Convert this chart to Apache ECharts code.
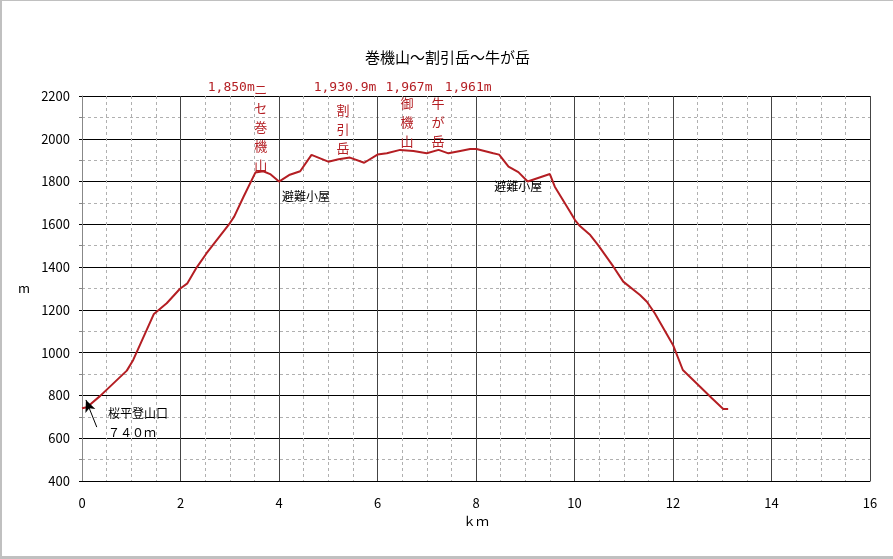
<!DOCTYPE html>
<html>
<head>
<meta charset="utf-8">
<script src="https://cdn.jsdelivr.net/npm/echarts@6/dist/echarts.min.js"></script>
<style>
  html, body { margin: 0; padding: 0; background: #fff; }
  #chart { width: 893px; height: 559px; box-sizing: border-box;
           border-top: 1px solid #c0c0c0; border-left: 2px solid #c0c0c0; border-bottom: 3px solid #c0c0c0; }
</style>
</head>
<body>
<div id="chart"></div>
<script>
// distance (km) and elevation (m) along the route
const distKm = [0, 0.1, 0.37, 0.91, 1.04, 1.46, 1.72, 1.99, 2.14, 2.33, 2.53, 3.0, 3.09, 3.28, 3.52,
  3.68, 3.82, 4.0, 4.22, 4.43, 4.66, 5.0, 5.21, 5.44, 5.73, 6.0, 6.19, 6.46, 6.73, 7.0, 7.24,
  7.44, 7.68, 7.88, 8.01, 8.35, 8.47, 8.66, 8.86, 9.05, 9.5, 9.6, 9.91, 10.01, 10.11, 10.32,
  10.48, 10.79, 10.99, 11.33, 11.47, 11.63, 12.0, 12.2, 12.55, 12.79, 13.02, 13.12];
const elevM = [740, 745, 798, 916, 966, 1181, 1231, 1299, 1324, 1399, 1465, 1605, 1636, 1729, 1842,
  1848, 1835, 1800, 1832, 1848, 1925, 1893, 1904, 1912, 1888, 1926, 1932, 1948, 1943, 1932, 1948,
  1932, 1943, 1952, 1952, 1932, 1926, 1870, 1844, 1800, 1835, 1776, 1659, 1620, 1592, 1550,
  1503, 1402, 1332, 1270, 1238, 1184, 1036, 919, 841, 787, 737, 737];

// peak annotations (red)
const peakNames = ['ニセ巻機山', '割引岳', '御機山', '牛が岳'];
const peakNameKm = [3.63, 5.30, 6.60, 7.23];
const peakNameTopM = [2237, 2135, 2167, 2167];
const peakHeights = ['1,850m', '1,930.9m', '1,967m', '1,961m'];
const peakHeightKm = [3.03, 5.34, 6.64, 7.84];
const peakHeightM = 2237;

// hut / trailhead notes (black)
const noteTexts = ['避難小屋', '避難小屋', '桜平登山口', '７４０ｍ'];
const noteKm = [4.06, 8.37, 0.53, 0.53];
const noteM = [1732, 1775, 718, 629];

const arrowFrom = [0.30, 652];
const arrowTo = [0.08, 779];

const lineColor = '#b41e23';
const font = '"Noto Sans CJK JP", "Liberation Sans", sans-serif';
const monoFont = '"DejaVu Sans Mono", monospace';

const chart = echarts.init(document.getElementById('chart'));
chart.setOption({
  animation: false,
  title: {
    text: '巻機山～割引岳～牛が岳',
    left: 'center',
    top: 44,
    textStyle: { fontFamily: font, fontSize: 15, fontWeight: 'normal', color: '#000' }
  },
  grid: { left: 80, right: 23, top: 95, bottom: 75 },
  xAxis: {
    type: 'value', min: 0, max: 16, interval: 2,
    name: 'ｋｍ', nameLocation: 'middle', nameGap: 34,
    nameTextStyle: { fontFamily: font, fontSize: 13, color: '#000' },
    axisLine: { lineStyle: { color: '#000', width: 1 } },
    axisTick: { show: false },
    axisLabel: { margin: 16, fontFamily: font, fontSize: 13, color: '#000' },
    splitLine: { show: true, lineStyle: { color: '#444', width: 1 } },
    minorTick: { show: false, splitNumber: 4 },
    minorSplitLine: { show: true, lineStyle: { color: '#b0b0b0', type: [3, 3], width: 1 } }
  },
  yAxis: {
    type: 'value', min: 400, max: 2200, interval: 200,
    name: 'm', nameLocation: 'middle', nameGap: 52, nameRotate: 0,
    nameTextStyle: { fontFamily: font, fontSize: 13, color: '#000' },
    axisLine: { show: true, lineStyle: { color: '#888', width: 1 } },
    axisTick: { show: true, length: 3, lineStyle: { color: '#000' } },
    axisLabel: { margin: 12, fontFamily: font, fontSize: 13, color: '#000',
                 formatter: v => String(v) },
    splitLine: { show: true, lineStyle: { color: '#000', width: 1 } },
    minorTick: { show: true, splitNumber: 2, length: 3, lineStyle: { color: '#888' } },
    minorSplitLine: { show: true, lineStyle: { color: '#b0b0b0', type: [3, 3], width: 1 } }
  },
  series: [{
    type: 'line',
    data: distKm.map((k, i) => [k, elevM[i]]),
    showSymbol: false,
    lineStyle: { color: lineColor, width: 2 },
    markLine: {
      silent: true,
      symbol: ['none', 'arrow'],
      symbolSize: [8, 12],
      label: { show: false },
      lineStyle: { color: '#000', width: 1, type: 'solid' },
      data: [[{ coord: arrowFrom }, { coord: arrowTo }]]
    }
  }]
});

// text annotations placed through the axes
const px = (k, m) => chart.convertToPixel({ gridIndex: 0 }, [k, m]);
const graphics = [];
peakNames.forEach((name, i) => {
  const p = px(peakNameKm[i], peakNameTopM[i]);
  graphics.push({
    type: 'text', x: p[0], y: p[1] - 9,
    style: { text: name.split('').join('\n'), fill: lineColor, font: '13px ' + font,
             align: 'center', verticalAlign: 'top', lineHeight: 19 }
  });
  const q = px(peakHeightKm[i], peakHeightM);
  graphics.push({
    type: 'text', x: q[0], y: q[1],
    style: { text: peakHeights[i], fill: lineColor, font: '13px ' + monoFont,
             align: 'center', verticalAlign: 'middle' }
  });
});
noteTexts.forEach((t, i) => {
  const p = px(noteKm[i], noteM[i]);
  graphics.push({
    type: 'text', x: p[0], y: p[1],
    style: { text: t, fill: '#000', font: '12px ' + font, align: 'left', verticalAlign: 'middle' }
  });
});
chart.setOption({ graphic: graphics });
</script>
</body>
</html>
